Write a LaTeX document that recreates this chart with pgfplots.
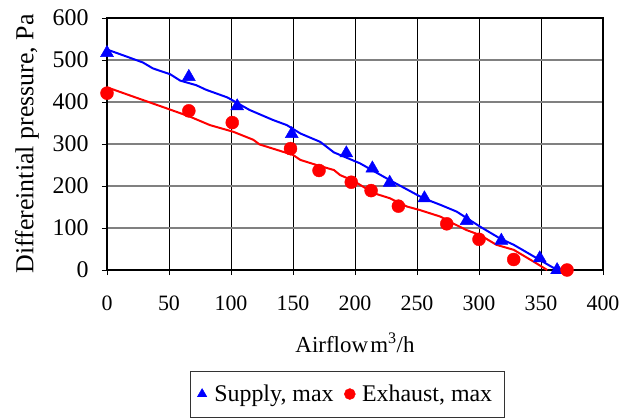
\documentclass[border=0pt]{standalone}
\usepackage{pgfplots}
\pgfplotsset{compat=1.18}
\usepackage{fontspec}
\setmainfont{Liberation Serif}

\begin{document}
\begin{tikzpicture}
  \begin{axis}[
    name=ax,
    scale only axis,
    width=496bp,
    height=252bp,
    xmin=0, xmax=400,
    ymin=0, ymax=600,
    xtick={0,50,...,400},
    ytick={0,100,...,600},
    xtick pos=left,
    ytick pos=left,
    tick align=outside,
    major tick length=5bp,
    tick style={black, line width=0.8pt},
    axis line style={black, line width=1.6pt},
    xmajorgrids, ymajorgrids,
    x grid style={black, line width=0.7pt},
    y grid style={gray, line width=1.3pt},
    /pgf/number format/assume math mode=true,
    xticklabel style={font=\fontsize{22}{26}\selectfont, yshift=-17bp},
    yticklabel style={font=\fontsize{24}{28}\selectfont, xshift=-10bp},
    xlabel={Airflow\hspace{0.1em}m\textsuperscript{3}/h},
    ylabel={Differeintial pressure, Pa},
    xlabel style={font=\fontsize{23}{27}\selectfont, yshift=-16bp},
    ylabel style={font=\fontsize{26}{30}\selectfont, yshift=7bp},
    legend columns=2,
    legend style={at={(0.484,-0.40)}, anchor=north, draw=black!80,
      font=\fontsize{24}{28}\selectfont, inner xsep=6bp, inner ysep=12bp,
      /tikz/every even column/.append style={column sep=4bp},
      nodes={inner xsep=6bp}},
    legend image post style={mark size=5.5bp},
    legend image code/.code={%
      \path (-6bp,0bp) (6bp,0bp);
      \draw[#1] plot coordinates {(0bp,0bp)};},
  ]
    % fitted curves
    \addplot[blue, line width=2pt, forget plot] coordinates {
      (0,525) (16,508) (29,494) (37,480) (51,466) (59,451) (72,440) (80,429)
      (97,411) (115,381) (134,357) (145,345) (156,325) (172,305) (183,280)
      (204,254) (228,214) (255,171) (269,155) (282,139) (301,103) (317,75)
      (328,60) (349,24) (363,0)
    };
    \addplot[red, line width=2pt, forget plot] coordinates {
      (0,435) (21,413) (48,385) (67,365) (83,345) (102,329) (118,310) (123,299)
      (150,274) (156,262) (169,250) (183,238) (188,226) (199,212) (215,183)
      (228,171) (242,151) (252,143) (269,127) (279,111) (290,95) (301,83)
      (314,60) (328,48) (344,20) (355,0)
    };
    % measurements
    \addplot[only marks, mark=triangle*, mark size=7.5bp, blue] coordinates {
      (0,517) (66,460) (105,390) (149,324) (193,278) (214,242) (228,208)
      (256,171) (290,117) (318,70) (349,28) (363,0)
    };
    \addlegendentry{Supply, max}
    \addplot[only marks, mark=*, mark size=6.5bp, red] coordinates {
      (0,421) (66,379) (101,351) (148,289) (171,237) (197,209) (213,189)
      (235,152) (274,110) (300,73) (328,25) (371,0)
    };
    \addlegendentry{Exhaust, max}
  \end{axis}
  \path ([xshift=-107bp,yshift=-148bp]ax.south west)
        rectangle ([xshift=30bp,yshift=18bp]ax.north east);
\end{tikzpicture}
\end{document}
